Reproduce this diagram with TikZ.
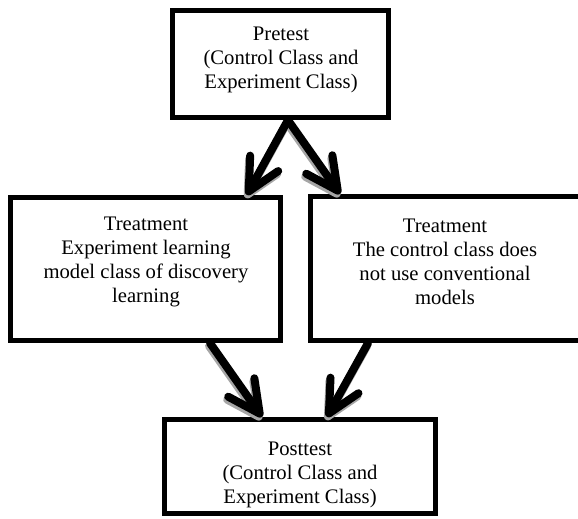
\documentclass[tikz,border=0pt]{standalone}
\usepackage{fontspec}
\setmainfont{Liberation Serif}
\usetikzlibrary{arrows.meta,calc}
\begin{document}
\begin{tikzpicture}[x=0.75pt,y=-0.75pt,
  box/.style={draw=black,line width=3.9pt,inner sep=0pt},
  txt/.style={align=center,inner sep=0pt,font=\fontsize{15.5pt}{18pt}\selectfont},
  arr/.style={draw=black,line width=6pt,line cap=round,line join=round,
    -{Straight Barb[round,length=24pt,width=24pt]}},
  arrshadow/.style={arr,draw=black!35,transform canvas={shift={(-0.75pt,-2.25pt)}}}
]
\useasboundingbox (0,0) rectangle (578,518);

\node[box,minimum width=162pt,minimum height=80.25pt] (pre) at (280.5,64) {};
\node[txt] (preT) at (281,60) {Pretest\\(Control Class and\\Experiment Class)};

\node[box,minimum width=202.5pt,minimum height=107.25pt] (tl) at (145.5,269) {};
\node[txt] (tlT) at (146,262) {Treatment\\Experiment learning\\model class of discovery\\learning};

\node[box,minimum width=202.5pt,minimum height=108pt] (tr) at (445.5,268.5) {};
\node[txt] (trT) at (445,262) {Treatment\\The control class does\\not use conventional\\models};

\node[box,minimum width=203.25pt,minimum height=70.5pt] (post) at (300,466.5) {};
\node[txt] (postT) at (300,475) {Posttest\\(Control Class and\\Experiment Class)};

% shadows
\draw[arrshadow] ([xshift=5.6pt]pre.south) -- ([xshift=76pt]tl.north);
\draw[arrshadow] ([xshift=5.6pt]pre.south) -- ([xshift=-79.1pt]tr.north);
\draw[arrshadow] ([xshift=48.4pt]tl.south) -- ([xshift=-28.5pt]post.north);
\draw[arrshadow] ([xshift=-58.1pt]tr.south) -- ([xshift=20.25pt]post.north);
% arrows
\draw[arr] ([xshift=5.6pt]pre.south) -- ([xshift=76pt]tl.north);
\draw[arr] ([xshift=5.6pt]pre.south) -- ([xshift=-79.1pt]tr.north);
\draw[arr] ([xshift=48.4pt]tl.south) -- ([xshift=-28.5pt]post.north);
\draw[arr] ([xshift=-58.1pt]tr.south) -- ([xshift=20.25pt]post.north);
\end{tikzpicture}
\end{document}
